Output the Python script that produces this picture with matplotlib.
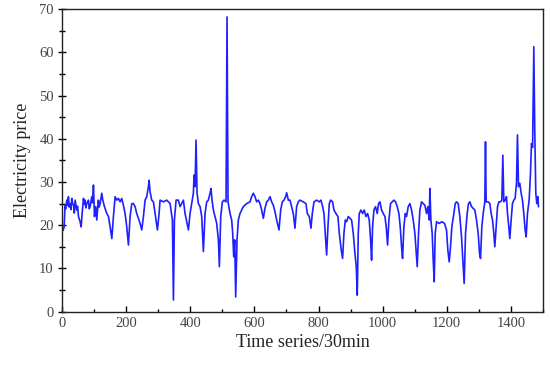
import matplotlib
matplotlib.use("Agg")
import matplotlib.pyplot as plt
from matplotlib.ticker import MultipleLocator

# (time index in 30-min steps, electricity price)
first_half = [
    (0, 19.6), (3, 18.8), (6.2, 19.6), (9, 24.5), (11, 23.8), (14.5, 25.8), (17, 24.6), (19.7, 26.6),
    (22, 24.2), (25, 25.0), (27.5, 23.6), (30, 26.2), (33, 25.0), (35.3, 24.6), (38, 22.8),
    (40.5, 25.8), (45.7, 23.5), (48, 24.4), (51, 22.0), (56, 20.8), (59.2, 19.6), (62.4, 22.7), (66.5, 26.2),
    (69, 24.8), (71.7, 25.8), (74, 24.0), (77, 25.0), (82, 25.8), (84.5, 23.8), (87.3, 24.3), (92.5, 26.6),
    (95, 25.2), (97.7, 29.3), (100.8, 22.0),
    (105, 24.3), (108, 21.2), (113, 25.8), (115.5, 24.2), (118.5, 25.0), (123.7, 27.4), (126.8, 25.8), (132, 24.3),
    (139.3, 22.7), (144.5, 22.0), (149.7, 19.6), (155, 16.9), (160, 22.0), (165.3, 26.6), (170.5, 25.8),
    (175.7, 26.2), (181, 25.4), (186, 26.2), (191.2, 24.6), (196.4, 22.7), (201.6, 19.6), (206.8, 15.4),
    (212, 22.0), (217.2, 25.0), (222.4, 25.0), (227.6, 24.3), (232.8, 22.7), (243.2, 20.4), (248.4, 18.9),
    (253.6, 22.0), (258.8, 25.8), (264, 26.6), (269.2, 28.9), (271.3, 30.4), (274.4, 27.7), (279.6, 25.8),
    (284.8, 25.4), (290, 22.7), (297.3, 18.9), (302.5, 22.7), (305.6, 25.8), (316, 25.4), (326.4, 25.8),
    (336.8, 25.0), (344, 21.2), (347.2, 2.7), (350.3, 21.2), (355.5, 25.8), (362.7, 25.8), (368, 24.3),
    (373.1, 25.0), (378.3, 25.8), (383.5, 22.7), (388.7, 20.8), (394, 18.9), (399.1, 22.7), (404.3, 25.0),
    (409.5, 27.4), (411.6, 31.6), (414.7, 28.9), (417.8, 39.7), (421, 27.4), (425.1, 25.0), (430.3, 24.3),
    (435.5, 22.0), (440.7, 13.9), (445.9, 22.7), (451.1, 25.4), (456.3, 25.8), (461.5, 27.4), (464.6, 28.5),
    (467.7, 25.8), (471.9, 23.5), (477.1, 22.0), (482.3, 20.4), (487.5, 16.6), (490.6, 10.4), (494.8, 22.0),
    (500, 25.4), (505.1, 25.8), (511.4, 25.4), (514.5, 68.2), (517.6, 25.4), (523.9, 22.7), (529, 21.2),
    (532.2, 18.1), (535.3, 12.7), (538.4, 16.6), (541.5, 3.4), (545.7, 16.6), (549.8, 21.2), (555, 22.7),
    (560.2, 23.5), (565.4, 24.3), (575.8, 25.0), (586.2, 25.4), (591.4, 26.6), (596.6, 27.4), (601.8, 26.6),
    (607, 25.4), (612.2, 25.8), (617.4, 25.0), (622.6, 23.5), (627.8, 21.6), (633, 23.9), (638.2, 25.4),
    (643.4, 25.8), (648.6, 26.6), (653.8, 25.4), (659, 24.6), (664.2, 23.1), (669.4, 21.2), (676.7, 18.9),
    (681.9, 23.5), (687, 25.4), (692.2, 25.8), (697.4, 26.6), (700.6, 27.5), (705.8, 25.8), (711, 25.8),
    (716.1, 24.3), (721.3, 22.7), (726.5, 19.3), (731.7, 24.3), (737, 25.4),
]
second_half = [
    (742, 25.8), (752.5, 25.4), (760.8, 25.0), (765, 22.7), (771.2, 22.0), (776.4, 19.3), (780.6, 22.7),
    (785.8, 25.4), (794, 25.8), (802.4, 25.4), (807.6, 25.8), (812.8, 24.3), (817, 22.7), (821.1, 18.1),
    (825.3, 13.1), (829.4, 19.6), (833.6, 25.0), (837.7, 25.8), (844, 25.4), (848.1, 23.5), (854.4, 22.7),
    (860.6, 22.0), (864.8, 18.1), (871, 14.2), (875.1, 12.3), (879.3, 18.1), (883.5, 21.2), (887.6, 20.8),
    (892.8, 22.0), (898, 21.6), (903.2, 21.2), (908.4, 18.1), (913.6, 13.5), (917.8, 10.4), (920.9, 3.8),
    (924, 18.1), (927.1, 22.7), (932.3, 23.5), (937.5, 22.7), (942.7, 23.5), (947.9, 22.0), (953.1, 22.7),
    (958.3, 21.2), (962.5, 16.6), (965.6, 11.9), (968.7, 19.6), (972.8, 23.5), (978, 24.3), (983.2, 22.7),
    (987.4, 25.0), (991.6, 25.4), (996.8, 23.5), (1002, 22.7), (1007.2, 22.0), (1011.3, 19.6), (1015.5, 15.4),
    (1019.6, 21.2), (1024.8, 25.0), (1030, 25.4), (1035.2, 25.8), (1040.4, 25.4), (1045.6, 24.3),
    (1050.8, 22.7), (1055, 19.6), (1059.1, 15.0), (1062.2, 12.3), (1066.4, 19.6), (1070.6, 22.7),
    (1074.7, 22.0), (1079.9, 24.3), (1085.1, 25.0), (1090.3, 23.5), (1095.5, 21.2), (1100.7, 18.1),
    (1104.9, 13.5), (1108, 10.4), (1112.1, 18.1), (1116.3, 23.5), (1121.5, 25.4), (1126.7, 25.0),
    (1131.9, 24.6), (1137.1, 22.7), (1141.2, 24.3), (1145.4, 21.2), (1147.5, 28.5), (1150.6, 21.2),
    (1154.7, 18.1), (1157.9, 11.9), (1161, 6.9), (1164.1, 18.1), (1168.3, 20.8), (1176.6, 20.4),
    (1184.9, 20.8), (1193.2, 20.4), (1199.4, 18.9), (1203.6, 14.2), (1207.8, 11.5), (1211.9, 15.0),
    (1216, 19.6), (1222.3, 22.7), (1226.5, 25.0), (1230.6, 25.4), (1235.8, 25.0), (1241, 22.0),
    (1246.2, 17.3), (1250.4, 11.9), (1254.5, 6.5), (1258.7, 18.1), (1263.9, 22.7), (1268, 25.0),
    (1272.2, 25.4), (1277.4, 24.3), (1282.6, 23.9), (1287.8, 23.5), (1293, 21.2), (1298.2, 18.1),
    (1302.4, 13.5), (1305.5, 12.3), (1309.6, 19.6), (1313.8, 22.7), (1316.9, 24.3), (1319, 25.4),
    (1321, 39.3), (1323.1, 25.4), (1329.4, 25.4), (1334.6, 25.0), (1338.7, 22.7), (1342.9, 21.2),
    (1347, 18.1), (1350.1, 15.0), (1354.3, 19.6), (1358.5, 24.3), (1362.6, 25.4), (1367.8, 25.4),
    (1372, 25.8), (1375.1, 36.2), (1378.2, 25.4), (1382.4, 25.8), (1386.5, 26.6), (1389.7, 22.7),
    (1393.8, 19.6), (1396.9, 16.9), (1401.1, 21.2), (1405.2, 25.0), (1409.4, 25.8), (1413.5, 26.2),
    (1417.7, 29.7), (1420.8, 40.9), (1424, 28.9), (1428.1, 29.7), (1432.3, 27.4), (1436.4, 25.8),
    (1440.6, 22.7), (1444.8, 18.9), (1447.9, 17.3), (1452, 22.7), (1457.2, 25.8), (1461.4, 32.0),
    (1464.5, 38.9), (1468, 38.0), (1471.8, 61.3), (1474.9, 41.2), (1478, 27.4), (1481.1, 25.0),
    (1484.3, 26.6), (1486.3, 24.3),
]

points = first_half + second_half
t = [p[0] for p in points]
price = [p[1] for p in points]

fig = plt.figure(figsize=(5.5, 3.67), dpi=100)
ax = fig.add_axes([0.113, 0.151, 0.874, 0.824])
ax.plot(t, price, color="#1f1fff", lw=1.2)

ax.set_xlim(0, 1500)
ax.set_ylim(0, 70)
ax.xaxis.set_major_locator(MultipleLocator(200))
ax.xaxis.set_minor_locator(MultipleLocator(100))
ax.yaxis.set_major_locator(MultipleLocator(10))
ax.yaxis.set_minor_locator(MultipleLocator(5))

serif = ["Liberation Serif", "DejaVu Serif"]
ax.tick_params(axis="x", which="major", direction="in", length=4, width=1, labelsize=10.5,
               labelcolor="#444444", pad=4)
ax.tick_params(axis="x", which="minor", direction="in", length=2.5, width=1)
ax.tick_params(axis="y", which="major", direction="inout", length=6, width=1, labelsize=10.5,
               labelcolor="#444444", pad=3)
ax.tick_params(axis="y", which="minor", direction="inout", length=4, width=1)
for lab in ax.get_xticklabels() + ax.get_yticklabels():
    lab.set_family(serif)
for sp in ax.spines.values():
    sp.set_linewidth(1.0)
    sp.set_color("#222222")

ax.set_xlabel("Time series/30min", family=serif, fontsize=13, color="#222222", labelpad=3)
ax.set_ylabel("Electricity price", family=serif, fontsize=13, color="#222222", labelpad=6)

fig.savefig("out.png", dpi=100)
